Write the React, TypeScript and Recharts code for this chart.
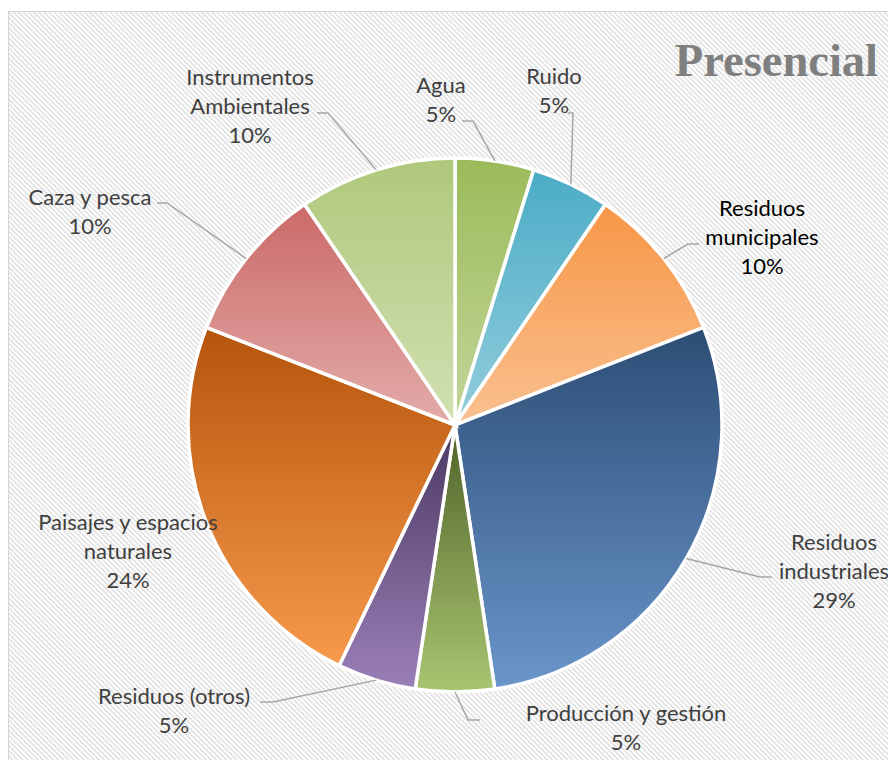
import React from "react";
import { PieChart, Pie, Cell } from "recharts";

// label text, split the way the chart wraps it
const categoryLines: string[][] = [
  ["Agua"],
  ["Ruido"],
  ["Residuos", "municipales"],
  ["Residuos", "industriales"],
  ["Producción y gestión"],
  ["Residuos (otros)"],
  ["Paisajes y espacios", "naturales"],
  ["Caza y pesca"],
  ["Instrumentos", "Ambientales"],
];
const categories = categoryLines.map((l) => l.join(" "));
const counts = [1, 1, 2, 6, 1, 1, 5, 2, 2];

const data = categories.map((name, i) => ({ name, value: counts[i] }));

// per-slice gradient, top colour -> bottom colour
const sliceGradients: [string, string][] = [
  ["#9BBB59", "#C3D69B"],
  ["#4BACC6", "#93CDDD"],
  ["#F79646", "#FAC090"],
  ["#2C4D75", "#6A96CB"],
  ["#4F6228", "#A9C571"],
  ["#4B3862", "#9B80B8"],
  ["#B5540B", "#F79A4C"],
  ["#CB6A68", "#E3ACAA"],
  ["#AFC87B", "#D2E0B3"],
];

// label placement relative to the pie centre:
// tx/ty = centre of first text line, ex/ey = leader elbow, hx = leader end
const labelSpots: { tx: number; ty: number; ex?: number; ey?: number; hx?: number }[] = [
  { tx: -14, ty: -340, ex: 18, ey: -304, hx: 7 },
  { tx: 99, ty: -349, ex: 118, ey: -312, hx: 113 },
  { tx: 307, ty: -217, ex: 233, ey: -181, hx: 244 },
  { tx: 379, ty: 117, ex: 305, ey: 152, hx: 317 },
  { tx: 171, ty: 288, ex: 13, ey: 295, hx: 25 },
  { tx: -281, ty: 271, ex: -182, ey: 277, hx: -195 },
  { tx: -327, ty: 97 },
  { tx: -365, ty: -228, ex: -288, ey: -222, hx: -298 },
  { tx: -205, ty: -348, ex: -127, ey: -312, hx: -138 },
];

const RADIAN = Math.PI / 180;
const FONT = 22;
const LINE_H = 29;

const renderLabel = (props: any) => {
  const { cx, cy, midAngle, outerRadius, percent, index } = props;
  const spot = labelSpots[index];
  const lines = [...categoryLines[index], `${Math.round(percent * 100)}%`];
  const sx = cx + outerRadius * Math.cos(-midAngle * RADIAN);
  const sy = cy + outerRadius * Math.sin(-midAngle * RADIAN);
  const tx = cx + spot.tx;
  return (
    <g key={`label-${index}`}>
      {spot.ex !== undefined && (
        <polyline
          points={`${sx},${sy} ${cx + spot.ex},${cy + spot.ey!} ${cx + spot.hx!},${cy + spot.ey!}`}
          fill="none"
          stroke="#a6a6a6"
          strokeWidth={1.5}
        />
      )}
      <text
        x={tx}
        y={cy + spot.ty + FONT * 0.36}
        textAnchor="middle"
        fill={index === 2 ? "#000000" : "#404040"}
        fontSize={FONT}
        fontFamily="Lato, 'Open Sans', sans-serif"
      >
        {lines.map((line, k) => (
          <tspan key={k} x={tx} dy={k === 0 ? 0 : LINE_H}>
            {line}
          </tspan>
        ))}
      </text>
    </g>
  );
};

export default function App() {
  return (
    <div style={{ position: "absolute", left: 0, top: 0, width: 888, height: 760, overflow: "hidden", background: "#fff" }}>
      <svg width={888} height={760} style={{ position: "absolute", left: 0, top: 0 }}>
        <defs>
          <pattern id="hatch" width="3.6" height="3.6" patternUnits="userSpaceOnUse" patternTransform="rotate(-45)">
            <rect width="3.6" height="3.6" fill="#ffffff" />
            <rect x="0" y="0" width="1.6" height="3.6" fill="#e0e0e0" />
          </pattern>
        </defs>
        <rect x={8.5} y={11.5} width={900} height={800} fill="url(#hatch)" stroke="#d4d4d4" strokeWidth={1} />
        <text
          x={878}
          y={76}
          textAnchor="end"
          fontFamily="'Liberation Serif', serif"
          fontWeight="bold"
          fontSize={46.5}
          fill="#7f7f7f"
        >
          Presencial
        </text>
      </svg>
      <div style={{ position: "absolute", left: 0, top: 0 }}>
        <PieChart width={888} height={760} margin={{ top: 0, right: 0, bottom: 0, left: 0 }}>
          <defs>
            {sliceGradients.map(([top, bottom], i) => (
              <linearGradient key={i} id={`slice-${i}`} x1="0" y1="0" x2="0" y2="1">
                <stop offset="0%" stopColor={top} />
                <stop offset="100%" stopColor={bottom} />
              </linearGradient>
            ))}
          </defs>
          <Pie
            data={data}
            dataKey="value"
            nameKey="name"
            cx={455}
            cy={425}
            outerRadius={267}
            startAngle={90}
            endAngle={-270}
            stroke="#ffffff"
            strokeWidth={3.5}
            label={renderLabel}
            labelLine={false}
            isAnimationActive={false}
          >
            {data.map((_, i) => (
              <Cell key={i} fill={`url(#slice-${i})`} />
            ))}
          </Pie>
        </PieChart>
      </div>
    </div>
  );
}
